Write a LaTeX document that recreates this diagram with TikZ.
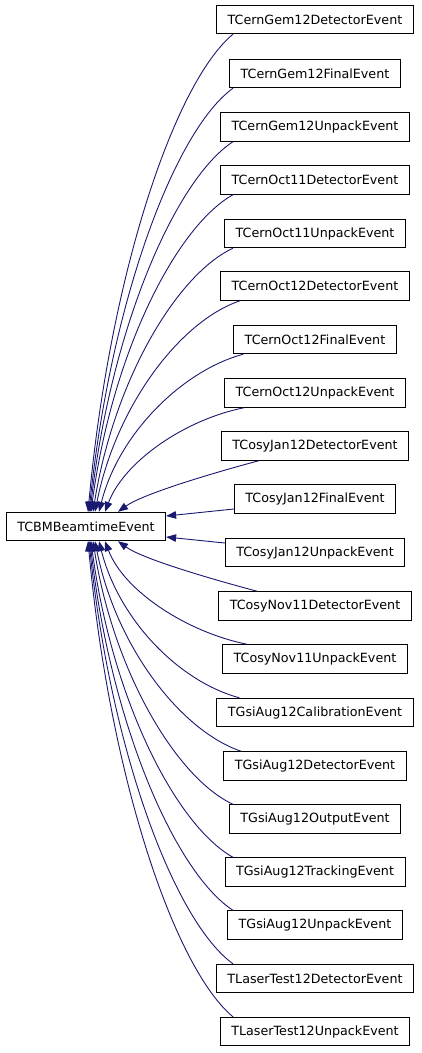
\documentclass[tikz,border=0pt]{standalone}
\usepackage{fontspec}
\setmainfont{DejaVu Sans}
\usepackage{xcolor}
\usetikzlibrary{arrows.meta, positioning, calc}
\definecolor{edgeblue}{RGB}{25,25,112}

\begin{document}
\begin{tikzpicture}[
  x=1pt, y=-1pt,
  cls/.style={draw=black, fill=white, line width=0.9pt, minimum height=28.5pt,
              inner xsep=11pt, inner ysep=0pt, font=\fontsize{12.7}{14}\selectfont},
  inh/.style={-{Triangle[length=10pt, width=7.5pt]}, draw=edgeblue, line width=0.9pt}
]
\useasboundingbox (0,0) rectangle (421,1053);

% --- base class ---
\node[cls] (base) at (86,526.5) {TCBMBeamtimeEvent};

% --- derived classes ---
\node[cls] (c1)  at (315,19.5)   {TCernGem12DetectorEvent};
\node[cls] (c2)  at (315,73.5)   {TCernGem12FinalEvent};
\node[cls] (c3)  at (315,127)    {TCernGem12UnpackEvent};
\node[cls] (c4)  at (315,180)    {TCernOct11DetectorEvent};
\node[cls] (c5)  at (315,233.5)  {TCernOct11UnpackEvent};
\node[cls] (c6)  at (315,286)    {TCernOct12DetectorEvent};
\node[cls] (c7)  at (315,339.5)  {TCernOct12FinalEvent};
\node[cls] (c8)  at (315,393)    {TCernOct12UnpackEvent};
\node[cls] (c9)  at (315,446)    {TCosyJan12DetectorEvent};
\node[cls] (c10) at (315,499)    {TCosyJan12FinalEvent};
\node[cls] (c11) at (315,552.5)  {TCosyJan12UnpackEvent};
\node[cls] (c12) at (315,606)    {TCosyNov11DetectorEvent};
\node[cls] (c13) at (315,659)    {TCosyNov11UnpackEvent};
\node[cls] (c14) at (315,712.5)  {TGsiAug12CalibrationEvent};
\node[cls] (c15) at (315,766)    {TGsiAug12DetectorEvent};
\node[cls] (c16) at (315,819)    {TGsiAug12OutputEvent};
\node[cls] (c17) at (315,872)    {TGsiAug12TrackingEvent};
\node[cls] (c18) at (315,925)    {TGsiAug12UnpackEvent};
\node[cls] (c19) at (315,978.5)  {TLaserTest12DetectorEvent};
\node[cls] (c20) at (315,1031.5) {TLaserTest12UnpackEvent};

\coordinate (tailx) at (233,0);

% --- upper edges ---
\draw[inh] (c1.south -| tailx) .. controls +(-58,48) and +(22,-239) .. ([xshift=2pt]base.north);
\draw[inh] (c2.south -| tailx) .. controls +(-58,42) and +(22,-212) .. ([xshift=3pt]base.north);
\draw[inh] (c3.south -| tailx) .. controls +(-57,37) and +(21,-185) .. ([xshift=4pt]base.north);
\draw[inh] (c4.south -| tailx) .. controls +(-57,32) and +(21,-159) .. ([xshift=5pt]base.north);
\draw[inh] (c5.south -| tailx) .. controls +(-56,26) and +(21,-132) .. ([xshift=7pt]base.north);
\draw[inh] ([xshift=20pt]c6.south west) .. controls +(-60,20) and +(21,-106) .. ([xshift=9pt]base.north);
\draw[inh] ([xshift=10pt]c7.south west) .. controls +(-60,16) and +(20,-79) .. ([xshift=13pt]base.north);
\draw[inh] ([xshift=20pt]c8.south west) .. controls +(-60,12) and +(19,-50) .. ([xshift=19pt]base.north);
\draw[inh] ([xshift=38pt]c9.south west) .. controls +(-45,12) and +(25,-18) .. ([xshift=32pt]base.north);

% --- middle edges ---
\draw[inh] ([yshift=-10pt]c10.west) -- ([yshift=10.5pt]base.east);
\draw[inh] ([yshift=9.5pt]c11.west) -- ([yshift=-10.5pt]base.east);

% --- lower edges ---
\draw[inh] ([xshift=39pt]c12.north west) .. controls +(-45,-12) and +(25,18) .. ([xshift=32pt]base.south);
\draw[inh] ([xshift=25pt]c13.north west) .. controls +(-60,-12) and +(19,50) .. ([xshift=19pt]base.south);
\draw[inh] ([xshift=23pt]c14.north west) .. controls +(-60,-16) and +(20,79) .. ([xshift=13pt]base.south);
\draw[inh] ([xshift=18pt]c15.north west) .. controls +(-60,-20) and +(21,106) .. ([xshift=9pt]base.south);
\draw[inh] (c16.north -| tailx) .. controls +(-56,-26) and +(21,132) .. ([xshift=7pt]base.south);
\draw[inh] (c17.north -| tailx) .. controls +(-57,-32) and +(21,159) .. ([xshift=5pt]base.south);
\draw[inh] (c18.north -| tailx) .. controls +(-57,-37) and +(21,185) .. ([xshift=4pt]base.south);
\draw[inh] (c19.north -| tailx) .. controls +(-58,-42) and +(22,212) .. ([xshift=3pt]base.south);
\draw[inh] (c20.north -| tailx) .. controls +(-58,-48) and +(22,238) .. ([xshift=2pt]base.south);

\end{tikzpicture}
\end{document}
